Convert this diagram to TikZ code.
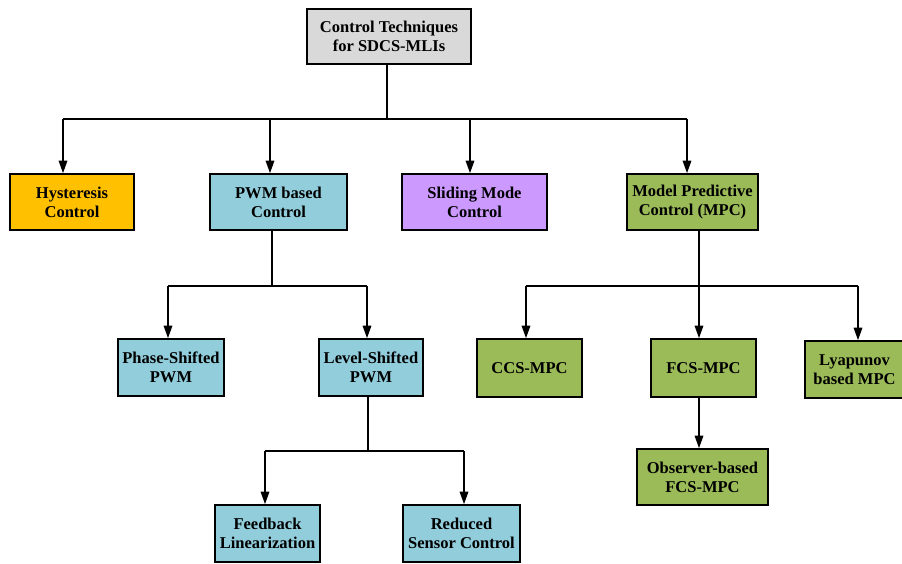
\documentclass[tikz,border=0pt]{standalone}
\usepackage{fontspec}
\setmainfont{Liberation Serif}
\usepackage{xcolor}
\usepackage{tikz}
\usetikzlibrary{arrows.meta}

\definecolor{rootgray}{HTML}{D9D9D9}
\definecolor{hystorange}{HTML}{FFC000}
\definecolor{pwmblue}{HTML}{92CDDC}
\definecolor{smcpurple}{HTML}{CC99FF}
\definecolor{mpcgreen}{HTML}{9BBB59}

\begin{document}
\begin{tikzpicture}[
    x=0.2mm, y=-0.2mm,
    block/.style={rectangle, draw, line width=0.9pt, align=center, inner sep=0pt,
        font=\bfseries\fontsize{9.4}{10.8}\selectfont},
    arrow/.style={line width=0.9pt, -{Triangle[length=2.5mm, width=1.7mm]}},
    link/.style={line width=0.9pt}
]
\useasboundingbox (0,0) rectangle (902,563);

% Root
\node[block, fill=rootgray, minimum width=32.8mm, minimum height=11mm] (root) at (389,36.5) {Control Techniques\\for SDCS-MLIs};

% First level
\node[block, fill=hystorange, minimum width=24.8mm, minimum height=11.2mm] (hyst) at (72,202) {Hysteresis\\Control};
\node[block, fill=pwmblue, minimum width=27.4mm, minimum height=11.2mm] (pwm) at (278.5,202) {PWM based\\Control};
\node[block, fill=smcpurple, minimum width=29mm, minimum height=11.2mm] (smc) at (474.5,202) {Sliding Mode\\Control};
\node[block, fill=mpcgreen, minimum width=26.2mm, minimum height=11.2mm] (mpc) at (692.5,202) {Model Predictive\\Control (MPC)};

% PWM branch
\node[block, fill=pwmblue, minimum width=21.2mm, minimum height=11.4mm] (psp) at (171,367.5) {Phase-Shifted\\PWM};
\node[block, fill=pwmblue, minimum width=20.8mm, minimum height=11.4mm] (lsp) at (371,367.5) {Level-Shifted\\PWM};
\node[block, fill=pwmblue, minimum width=21mm, minimum height=11.4mm] (fbl) at (267.5,533.5) {Feedback\\Linearization};
\node[block, fill=pwmblue, minimum width=23.4mm, minimum height=11.4mm] (rsc) at (461.5,533.5) {Reduced\\Sensor Control};

% MPC branch
\node[block, fill=mpcgreen, minimum width=21mm, minimum height=11.6mm] (ccs) at (529.5,368) {CCS-MPC};
\node[block, fill=mpcgreen, minimum width=21mm, minimum height=11.6mm] (fcs) at (703.5,368) {FCS-MPC};
\node[block, fill=mpcgreen, minimum width=19.8mm, minimum height=11.4mm] (lyap) at (854.5,369.5) {Lyapunov\\based MPC};
\node[block, fill=mpcgreen, minimum width=26.2mm, minimum height=11.2mm] (obs) at (702.5,477) {Observer-based\\FCS-MPC};

% Joints
\coordinate (j0) at (387,119);
\coordinate (j0a) at (63,119);
\coordinate (j0b) at (270,119);
\coordinate (j0c) at (470,119);
\coordinate (j0d) at (687,119);
\coordinate (j1) at (272,286);
\coordinate (j1a) at (168,286);
\coordinate (j1b) at (367,286);
\coordinate (j2) at (368,451);
\coordinate (j2a) at (265,451);
\coordinate (j2b) at (464,451);
\coordinate (j3) at (699,286);
\coordinate (j3a) at (526,286);
\coordinate (j3c) at (858,286);

% Connections
\draw[link] (root.south -| j0) -- (j0);
\draw[link] (j0a) -- (j0d);
\draw[arrow] (j0a) -- (hyst.north -| j0a);
\draw[arrow] (j0b) -- (pwm.north -| j0b);
\draw[arrow] (j0c) -- (smc.north -| j0c);
\draw[arrow] (j0d) -- (mpc.north -| j0d);

\draw[link] (pwm.south -| j1) -- (j1);
\draw[link] (j1a) -- (j1b);
\draw[arrow] (j1a) -- (psp.north -| j1a);
\draw[arrow] (j1b) -- (lsp.north -| j1b);

\draw[link] (lsp.south -| j2) -- (j2);
\draw[link] (j2a) -- (j2b);
\draw[arrow] (j2a) -- (fbl.north -| j2a);
\draw[arrow] (j2b) -- (rsc.north -| j2b);

\draw[link] (mpc.south -| j3) -- (j3);
\draw[link] (j3a) -- (j3c);
\draw[arrow] (j3a) -- (ccs.north -| j3a);
\draw[arrow] (j3) -- (fcs.north -| j3);
\draw[arrow] (j3c) -- (lyap.north -| j3c);
\draw[arrow] (fcs.south -| j3) -- (obs.north -| j3);

\end{tikzpicture}
\end{document}
